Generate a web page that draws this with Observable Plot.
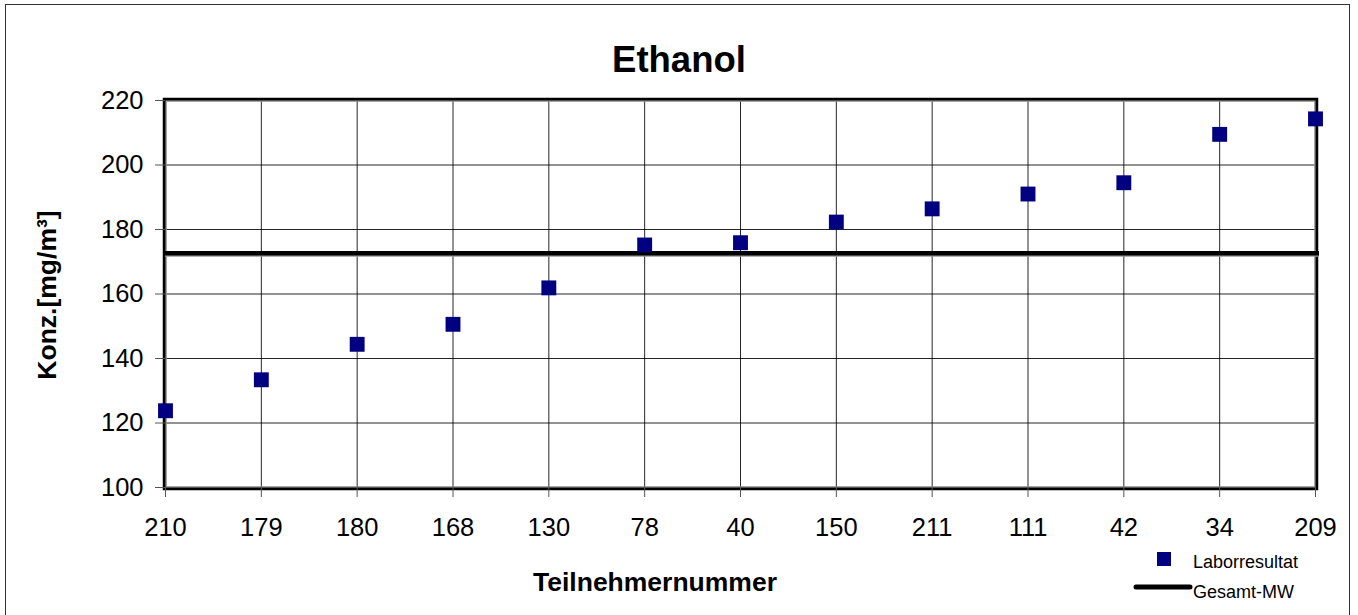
<!DOCTYPE html>
<html>
<head>
<meta charset="utf-8">
<script src="https://cdn.jsdelivr.net/npm/d3@7"></script>
<script src="https://cdn.jsdelivr.net/npm/@observablehq/plot@0.6"></script>
<style>
  html, body { margin: 0; padding: 0; background: #fff; }
  body { width: 1358px; height: 615px; overflow: hidden; position: relative; font-family: "Liberation Sans", Arial, sans-serif; }
  #frame { position: absolute; left: 5px; top: 4px; width: 1345px; height: 640px; border: 1.5px solid #333; box-sizing: border-box; }
  #chart { position: absolute; left: 0; top: 0; }
  .lbl { position: absolute; color: #000; white-space: nowrap; }
  #title { left: 0; width: 1358px; top: 40px; text-align: center; font-size: 36.5px; font-weight: bold; line-height: 40px; }
  #xlabel { left: 455px; width: 400px; text-align: center; top: 567px; font-size: 26.5px; font-weight: bold; line-height: 30px; }
  #ylabel { left: 47px; top: 295px; font-size: 26.5px; font-weight: bold; line-height: 30px; transform: translate(-50%, -50%) rotate(-90deg); }
  #legend { position: absolute; left: 1130px; top: 548px; }
  .legtext { font-size: 18px; line-height: 20px; }
</style>
</head>
<body>
<div id="chart"></div>
<div id="frame"></div>
<div class="lbl" id="title">Ethanol</div>
<div class="lbl" id="xlabel">Teilnehmernummer</div>
<div class="lbl" id="ylabel">Konz.[mg/m³]</div>
<div id="legend">
  <svg width="220" height="60" style="position:absolute;left:0;top:0;overflow:visible">
    <rect x="27" y="4" width="14" height="14" fill="#000080"></rect>
    <line x1="6" y1="39" x2="60" y2="39" stroke="#000" stroke-width="5" stroke-linecap="round"></line>
  </svg>
  <div class="lbl legtext" style="left:63px;top:4px">Laborresultat</div>
  <div class="lbl legtext" style="left:63px;top:34px">Gesamt-MW</div>
</div>
<script>
const categories = ["210","179","180","168","130","78","40","150","211","111","42","34","209"];
const values = [123.8, 133.4, 144.4, 150.6, 161.9, 175.2, 175.9, 182.3, 186.4, 191.0, 194.5, 209.5, 214.3];
const meanValue = 172.6;
const yTicks = [100, 120, 140, 160, 180, 200, 220];

const data = categories.map((c, i) => ({ id: c, value: values[i] }));

const chart = Plot.plot({
  width: 1358,
  height: 615,
  marginLeft: 165,
  marginRight: 43,
  marginTop: 100,
  marginBottom: 128,
  style: { fontFamily: "Liberation Sans, Arial, sans-serif", fontSize: "25.5px", background: "transparent", overflow: "visible" },
  x: { type: "point", domain: categories, padding: 0, round: false },
  y: { domain: [100, 220] },
  marks: [
    Plot.gridY(yTicks, { stroke: "#000", strokeOpacity: 0.85, strokeWidth: 1 }),
    Plot.gridX(categories, { stroke: "#000", strokeOpacity: 0.85, strokeWidth: 1 }),
    Plot.frame({ stroke: "#888", strokeWidth: 1.5, inset: 0.5 }),
    Plot.frame({ stroke: "#000", strokeWidth: 2.5, inset: -1.5 }),
    Plot.axisY(yTicks, { tickSize: 10, tickPadding: 12, label: null, fontSize: 25.5, stroke: "#555" }),
    Plot.axisX(categories, { tickSize: 10, tickPadding: 20, label: null, fontSize: 25.5, stroke: "#555" }),
    Plot.ruleY([meanValue], { stroke: "#999", strokeWidth: 2, dy: 2.5, insetRight: -4 }),
    Plot.ruleY([meanValue], { stroke: "#000", strokeWidth: 4.5, insetRight: -4 }),
    Plot.dot(data, { x: "id", y: "value", symbol: "square", r: 8.4, fill: "#000080", stroke: null })
  ]
});
document.getElementById("chart").appendChild(chart);
</script>
</body>
</html>
